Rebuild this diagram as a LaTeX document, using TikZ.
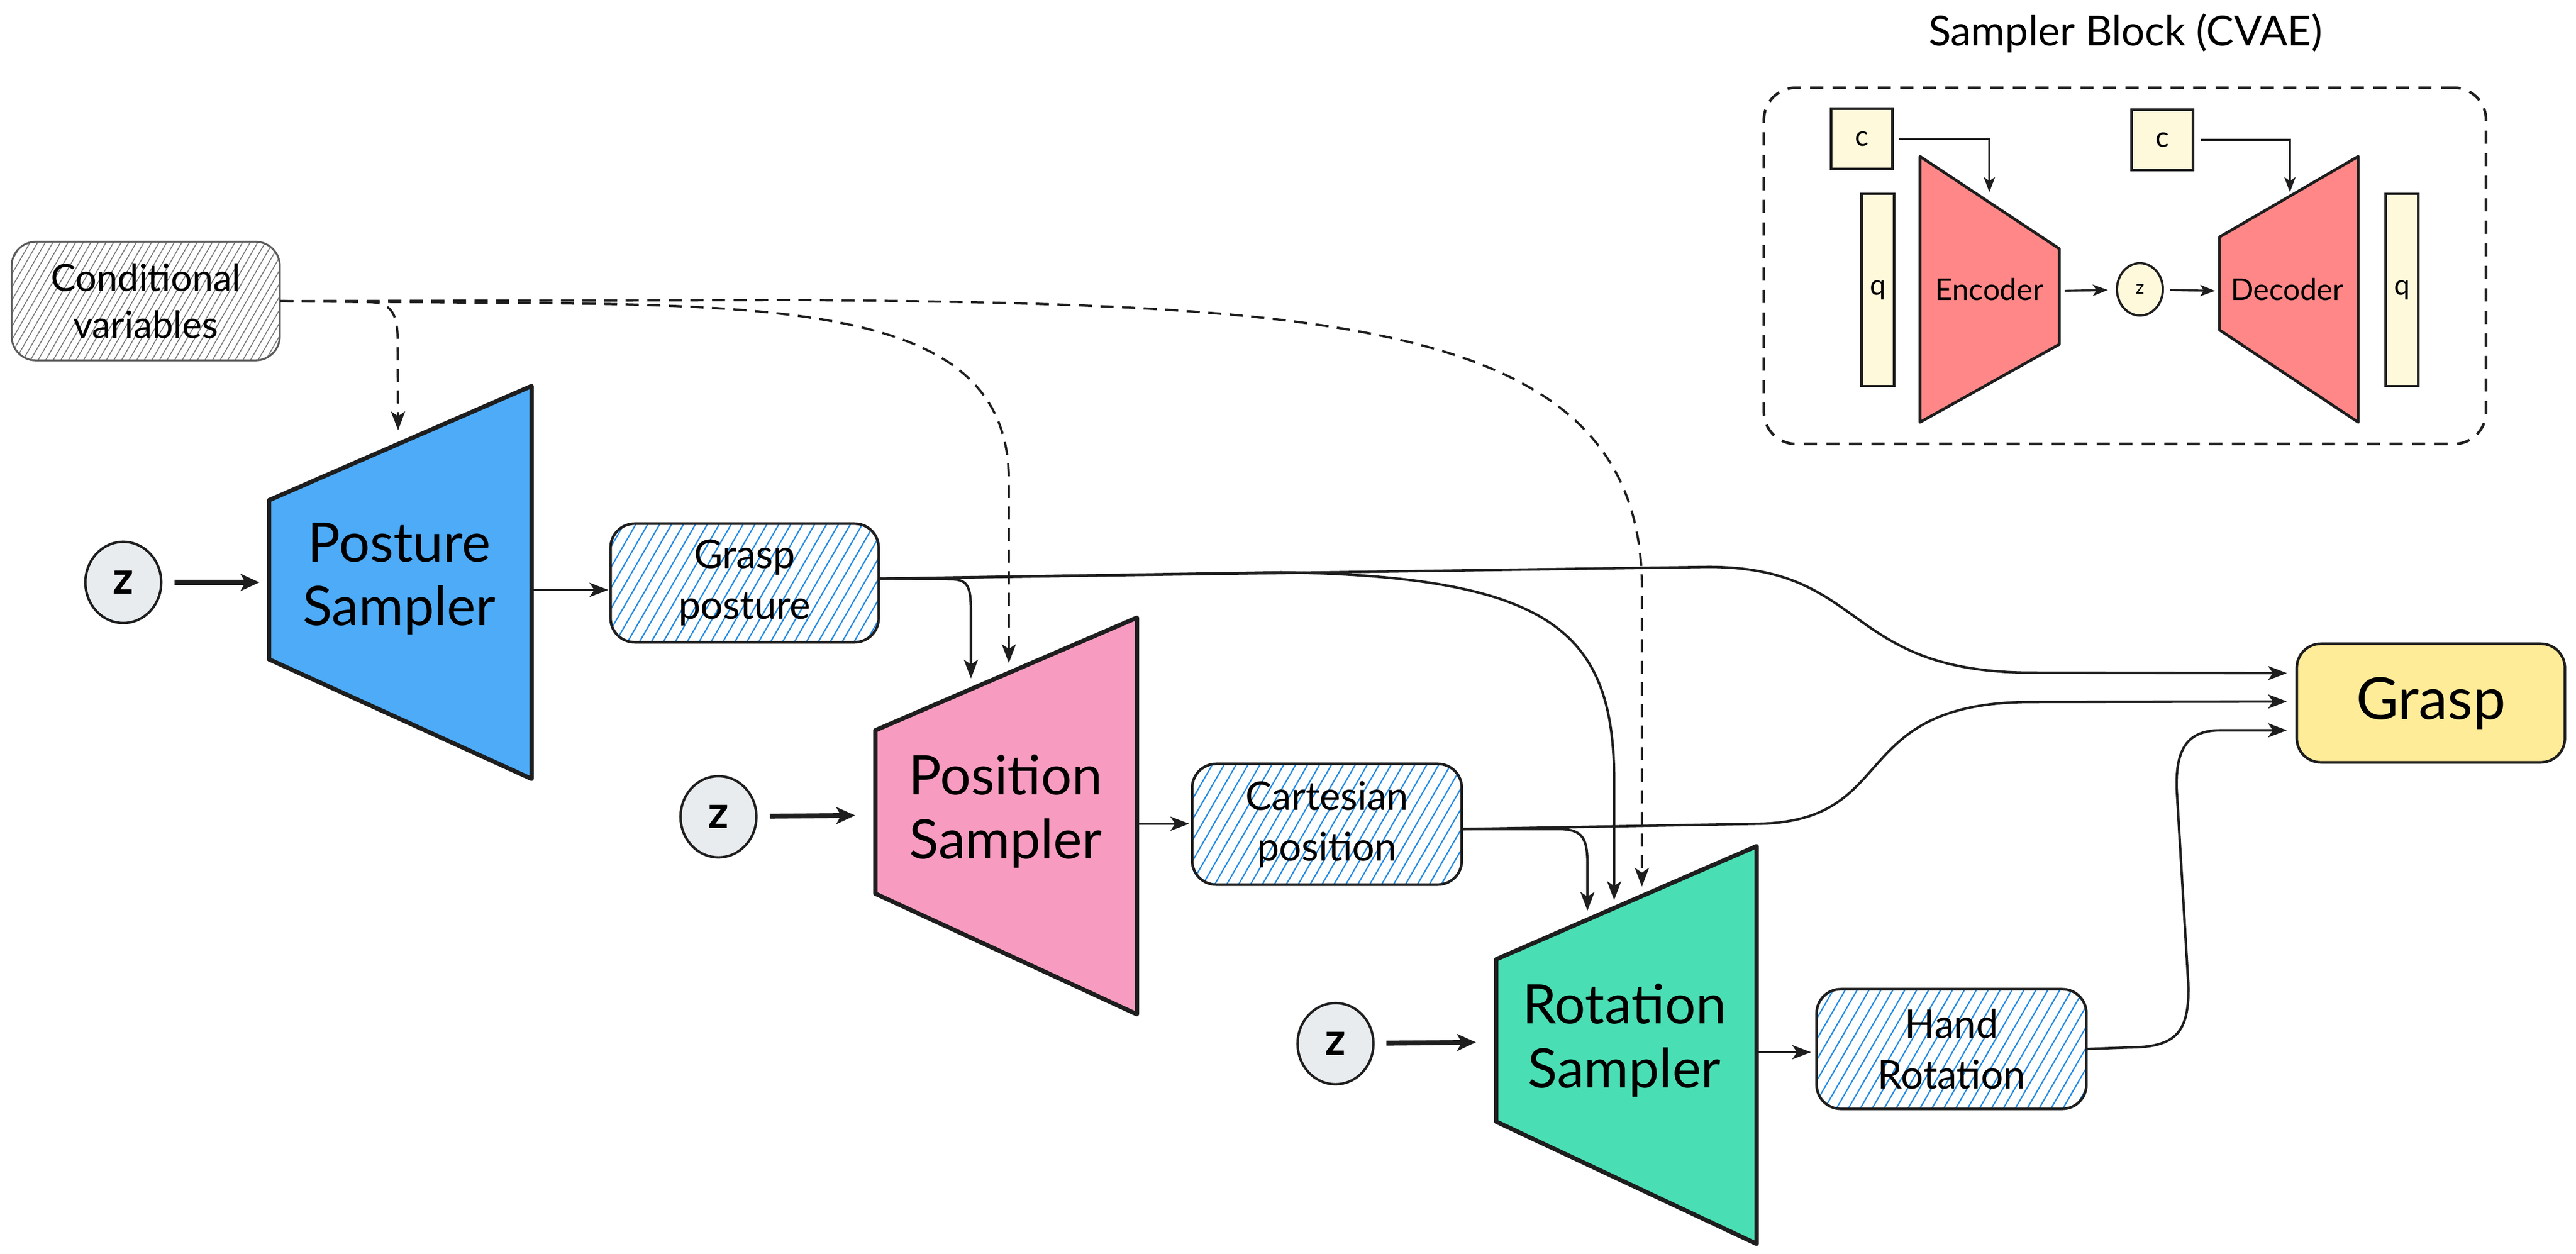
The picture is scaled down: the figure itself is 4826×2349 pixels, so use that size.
\documentclass[tikz,border=0pt]{standalone}
\usepackage{fontspec}
\setmainfont{Lato}
\usetikzlibrary{arrows.meta,patterns.meta,shapes.geometric,calc}
\definecolor{ink}{HTML}{1E1E1E}
\definecolor{postblue}{HTML}{4DABF7}
\definecolor{pospink}{HTML}{F79CC0}
\definecolor{rotgreen}{HTML}{4ADEB4}
\definecolor{encred}{HTML}{FF8787}
\definecolor{graspyellow}{HTML}{FFEC99}
\definecolor{lightyellow}{HTML}{FFF9DB}
\definecolor{zgray}{HTML}{E9ECEF}
\definecolor{hatchblue}{HTML}{228BE6}
\definecolor{condgray}{HTML}{5C5C5C}
\definecolor{condhatch}{HTML}{7A7A7A}
\begin{document}
\begin{tikzpicture}[x=0.01cm,y=-0.01cm,
 rbox/.style={draw=ink,line width=1.4pt,rounded corners=0.45cm,align=center,inner sep=0pt,minimum width=5.02cm,minimum height=2.22cm},
 hatchbox/.style={rbox,pattern={Lines[angle=60,distance=5.5pt,line width=0.7pt]},pattern color=hatchblue,font=\fontsize{21}{27}\selectfont},
 condbox/.style={rbox,draw=condgray,line width=1pt,pattern={Lines[angle=60,distance=3.5pt,line width=0.5pt]},pattern color=condhatch,font=\fontsize{20}{25}\selectfont},
 graspbox/.style={rbox,fill=graspyellow,font=\fontsize{31}{31}\selectfont},
 zc/.style={ellipse,draw=ink,line width=1.3pt,fill=zgray,minimum width=1.42cm,minimum height=1.52cm,inner sep=0pt,font=\fontsize{24}{24}\selectfont\bfseries},
 trap/.style={draw=ink,line width=2.3pt,line join=round},
 traptext/.style={align=center,font=\fontsize{29}{34}\selectfont},
 arr/.style={draw=ink,line width=1.3pt,-{Stealth[length=10pt,width=7.5pt,inset=2.5pt]}},
 zarr/.style={draw=ink,line width=2.6pt,-{Stealth[length=10pt,width=9pt,inset=2.5pt]}},
 dasharr/.style={arr,line width=1.2pt,dash pattern=on 7pt off 4.5pt},
 cbox/.style={draw=ink,line width=1.3pt,fill=lightyellow,minimum width=1.15cm,minimum height=1.13cm,inner sep=0pt,font=\fontsize{15}{15}\selectfont},
 qbar/.style={draw=ink,line width=1.3pt,fill=lightyellow,minimum width=0.61cm,minimum height=3.6cm,inner sep=0pt,font=\fontsize{15}{15}\selectfont},
 smallarr/.style={draw=ink,line width=1.1pt,-{Stealth[length=8pt,width=6pt,inset=2pt]}},
 smalltext/.style={font=\fontsize{16}{16}\selectfont}
]
\fill[white] (0,0) rectangle (4826,2349);
\useasboundingbox (0,0) rectangle (4826,2349);

% ---------- trapezoids ----------
\filldraw[trap,fill=postblue] (504,937) -- (996,723) -- (996,1459) -- (504,1235) -- cycle;
\node[traptext] (posture) at (748,1084) {Posture\\Sampler};
\coordinate (PSin) at (504,1091);
\coordinate (PSout) at (996,1105);
\coordinate (PStop) at (746,832);

\filldraw[trap,fill=pospink] (1640,1368) -- (2130,1157) -- (2130,1900) -- (1640,1674) -- cycle;
\node[traptext] (position) at (1884,1520) {Position\\Sampler};
\coordinate (POin) at (1640,1527);
\coordinate (POout) at (2130,1543);
\coordinate (POtopA) at (1819,1291);
\coordinate (POtopB) at (1890,1260);

\filldraw[trap,fill=rotgreen] (2803,1797) -- (3291,1585) -- (3291,2330) -- (2803,2101) -- cycle;
\node[traptext] (rotation) at (3043,1949) {Rotation\\Sampler};
\coordinate (ROin) at (2803,1952);
\coordinate (ROout) at (3291,1971);
\coordinate (ROtopA) at (2974,1723);
\coordinate (ROtopB) at (3024,1701);
\coordinate (ROtopC) at (3076,1678);

% ---------- boxes ----------
\node[condbox] (cond) at (273,564) {Conditional\\variables};
\node[hatchbox] (gpost) at (1395,1092) {Grasp\\posture};
\node[hatchbox,minimum width=5.05cm,minimum height=2.26cm] (cart) at (2486,1544) {Cartesian\\position};
\node[hatchbox,minimum width=5.05cm,minimum height=2.24cm] (hrot) at (3656,1965) {Hand\\Rotation};
\node[graspbox] (grasp) at (4554,1317) {Grasp};
\coordinate (G1) at ([yshift=0.56cm]grasp.west);
\coordinate (G2) at ([yshift=0.03cm]grasp.west);
\coordinate (G3) at ([yshift=-0.51cm]grasp.west);

% ---------- z inputs ----------
\node[zc] (z1) at (231,1091) {z};
\node[zc] (z2) at (1346,1530) {z};
\node[zc] (z3) at (2502,1955) {z};
\draw[zarr,shorten <=0.23cm,shorten >=0.18cm] (z1) -- (PSin);
\draw[zarr,shorten <=0.23cm,shorten >=0.38cm] (z2) -- (POin);
\draw[zarr,shorten <=0.22cm,shorten >=0.38cm] (z3) -- (ROin);

% ---------- sampler outputs ----------
\draw[arr,shorten >=0.03cm] (PSout) -- (PSout -| gpost.west);
\draw[arr,shorten >=0.03cm] (POout) -- (POout -| cart.west);
\draw[arr,shorten >=0.08cm] (ROout) -- (ROout -| hrot.west);

% ---------- grasp posture ----------
\draw[arr,shorten >=0.16cm] ([yshift=0.08cm]gpost.east) -- (3200,1062) .. controls (3500,1062) and (3450,1257) .. (3800,1260) -- (G1);
\draw[arr,shorten >=0.2cm] ([yshift=0.08cm]gpost.east) -- (1780,1085) .. controls (1815,1085) and (1819,1100) .. (1819,1150) -- (POtopA);
\draw[arr,shorten >=0.15cm] ([yshift=0.08cm]gpost.east) -- (2400,1072) .. controls (2900,1080) and (3020,1180) .. (3024,1450) -- (ROtopB);

% ---------- cartesian position ----------
\draw[arr,shorten >=0.16cm] ([yshift=-0.09cm]cart.east) -- (3300,1543) .. controls (3560,1535) and (3460,1318) .. (3800,1315) -- (G2);
\draw[arr,shorten >=0.17cm] ([yshift=-0.09cm]cart.east) -- (2920,1553) .. controls (2965,1553) and (2974,1570) .. (2974,1620) -- (ROtopA);

% ---------- hand rotation ----------
\draw[arr,shorten >=0.16cm] (hrot.east) -- (3990,1962) .. controls (4080,1962) and (4100,1930) .. (4100,1850) -- (4078,1480) .. controls (4075,1400) and (4100,1368) .. (4160,1368) -- (G3);

% ---------- conditional variables ----------
\draw[dasharr,shorten >=0.26cm] (cond.east) -- (690,566) .. controls (735,566) and (745,590) .. (745,640) -- (PStop);
\draw[dasharr,shorten >=0.18cm] (cond.east) -- (900,567) .. controls (1500,570) and (1890,580) .. (1890,900) -- (POtopB);
\draw[dasharr,shorten >=0.17cm] (cond.east) -- (1500,562) .. controls (2500,570) and (3075,600) .. (3076,1100) -- (ROtopC);

% ---------- Sampler block (CVAE) ----------
\node[font=\fontsize{22}{22}\selectfont] (title) at (3982,62) {Sampler Block (CVAE)};
\node[draw=ink,line width=1.4pt,dash pattern=on 7pt off 5pt,rounded corners=0.6cm,minimum width=13.52cm,minimum height=6.67cm] (block) at (3981,498) {};

\node[cbox] (c1) at (3488,260) {c};
\node[qbar] (q1) at (3518,543) {q};
\filldraw[trap,line width=1.5pt,fill=encred] (3597,293) -- (3858,466) -- (3858,645) -- (3597,791) -- cycle;
\node[smalltext] (enc) at (3727,542) {Encoder};
\coordinate (ENtop) at (3727,379);
\coordinate (ENout) at (3858,545);

\node[ellipse,draw=ink,line width=1.2pt,fill=lightyellow,minimum width=0.86cm,minimum height=0.98cm,inner sep=0pt,font=\fontsize{10}{10}\selectfont] (zc) at (4009,542) {z};

\node[cbox] (c2) at (4051,262) {c};
\node[qbar] (q2) at (4500,543) {q};
\filldraw[trap,line width=1.5pt,fill=encred] (4158,444) -- (4418,293) -- (4418,791) -- (4158,618) -- cycle;
\node[smalltext] (dec) at (4285,542) {Decoder};
\coordinate (DEtop) at (4290,367);
\coordinate (DEin) at (4158,545);

\draw[smallarr,shorten <=0.1cm,shorten >=0.19cm] (c1.east) -| (ENtop);
\draw[smallarr,shorten <=0.12cm,shorten >=0.07cm] (c2.east) -| (DEtop);
\draw[smallarr,shorten <=0.1cm,shorten >=0.15cm] (ENout) -- (zc);
\draw[smallarr,shorten <=0.12cm,shorten >=0.08cm] (zc) -- (DEin);
\end{tikzpicture}
\end{document}
